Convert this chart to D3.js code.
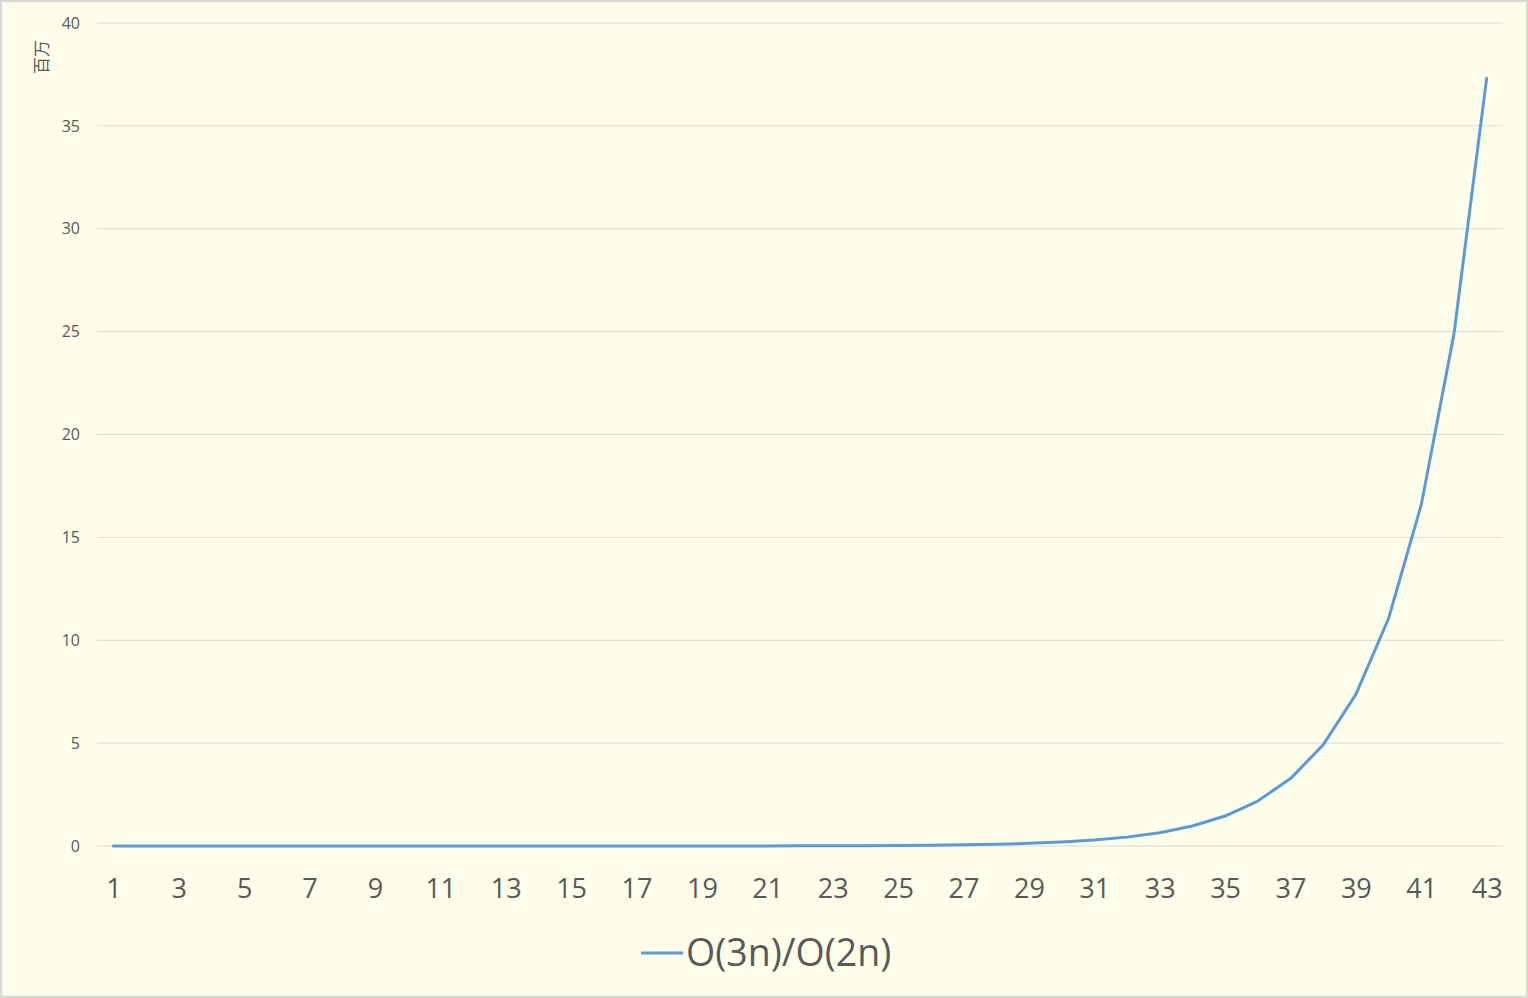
<!DOCTYPE html>
<html><head><meta charset="utf-8">
<script src="https://cdn.jsdelivr.net/npm/d3@7"></script>
<style>
html,body{margin:0;padding:0;background:#fff;}
svg{display:block;}
</style></head>
<body>
<svg id="chart" width="1528" height="998"></svg>
<script>
const categories = [1,2,3,4,5,6,7,8,9,10,11,12,13,14,15,16,17,18,19,20,21,22,23,24,25,26,27,28,29,30,31,32,33,34,35,36,37,38,39,40,41,42,43];
// values in millions (百万)
const seriesValues = [0.0000015,0.00000225,0.000003375,0.0000050625,0.0000075938,0.0000113906,0.0000170859,0.0000256289,0.0000384434,0.0000576650,
0.0000864976,0.000129746,0.000194620,0.000291929,0.000437894,0.000656841,0.000985261,0.00147789,0.00221684,0.00332526,
0.00498789,0.00748183,0.0112227,0.0168341,0.0252512,0.0378768,0.0568151,0.0852227,0.127834,0.191751,
0.287627,0.431440,0.647160,0.970740,1.45611,2.18416,3.27625,4.91437,7.37156,11.0573,
16.5860,24.8790,37.3185];
const seriesName = "O(3n)/O(2n)";
const yTicks = [0,5,10,15,20,25,30,35,40];
const xTickLabels = [1,3,5,7,9,11,13,15,17,19,21,23,25,27,29,31,33,35,37,39,41,43];
const unitLabel = "百万";

(function(){
const svg = d3.select("#chart");
svg.append("rect").attr("x",1).attr("y",1).attr("width",1526).attr("height",996)
  .attr("fill","#FEFEEA").attr("stroke","#D9D9D9").attr("stroke-width",2.5);

const pLeft = 97, pRight = 1503, pTop = 23, pBottom = 846;
const x = d3.scalePoint().domain(categories).range([pLeft,pRight]).padding(0.5);
const y = d3.scaleLinear().domain([0,40]).range([pBottom,pTop]);

// gridlines
svg.append("g").selectAll("line").data(yTicks).join("line")
  .attr("x1",pLeft).attr("x2",pRight)
  .attr("y1",d=>y(d)).attr("y2",d=>y(d))
  .attr("stroke","#D9D9D9").attr("stroke-width",1);

// y axis labels
const yAxis = d3.axisLeft(y).tickValues(yTicks).tickSize(0).tickPadding(0);
const gy = svg.append("g").attr("transform",`translate(80,0)`).call(yAxis);
gy.select(".domain").remove();
gy.selectAll("text").attr("font-family","'Open Sans','Noto Sans',sans-serif")
  .attr("font-size",16).attr("fill","#595959").attr("dy","0.32em");

// x axis labels
const xAxis = d3.axisBottom(x).tickValues(xTickLabels).tickSize(0).tickPadding(0);
const gx = svg.append("g").attr("transform",`translate(0,${pBottom+33})`).call(xAxis);
gx.select(".domain").remove();
gx.selectAll("text").attr("font-family","'Open Sans','Noto Sans',sans-serif")
  .attr("font-size",27).attr("fill","#595959");

// unit label
svg.append("text").attr("transform","translate(48,57) rotate(-90)")
  .attr("text-anchor","middle").attr("font-family","'Noto Sans CJK SC',sans-serif")
  .attr("font-size",17).attr("fill","#595959").text(unitLabel);

// line
const line = d3.line().x((d,i)=>x(categories[i])).y(d=>y(d));
svg.append("path").datum(seriesValues).attr("d",line)
  .attr("fill","none").attr("stroke","#5B9BD5").attr("stroke-width",3)
  .attr("stroke-linejoin","round").attr("stroke-linecap","round");

// legend
svg.append("line").attr("x1",641).attr("x2",683).attr("y1",953).attr("y2",953)
  .attr("stroke","#5B9BD5").attr("stroke-width",3);
svg.append("text").attr("x",686).attr("y",953).attr("dy","0.35em")
  .attr("font-family","'Open Sans','Noto Sans',sans-serif").attr("font-size",37.5)
  .attr("fill","#595959").text(seriesName);
})();
</script>
</body></html>
